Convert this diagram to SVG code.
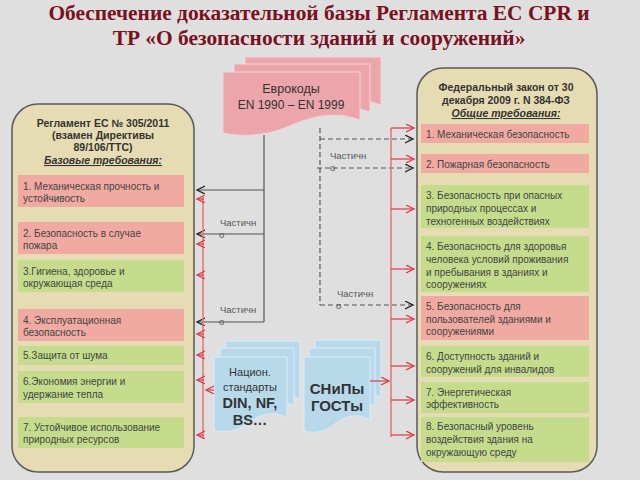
<svg xmlns="http://www.w3.org/2000/svg" width="640" height="480" viewBox="0 0 640 480">
<defs>
<style>
.title{font-family:"Liberation Serif","Times New Roman",serif;font-weight:bold;font-size:21.4px;fill:#7b1020;text-anchor:middle}
.panel{fill:#e6dcb3;stroke:#5a5a5a;stroke-width:1.5}
.hdr{font-family:"Liberation Sans",Arial,sans-serif;font-weight:bold;font-size:10.5px;fill:#333;text-anchor:middle}
.sub{font-style:italic;text-decoration:underline}
.pink{fill:#f1aaa1}
.green{fill:#c6dc8d}
.it{font-family:"Liberation Sans",Arial,sans-serif;font-size:10px;fill:#444}
.doc-p{fill:#eba5ab;stroke:#f4d6d8;stroke-width:1}
.doc-b{fill:#b8d9ea;stroke:#dcedf5;stroke-width:1}
.dt{font-family:"Liberation Sans",Arial,sans-serif;fill:#333;text-anchor:middle}
.lbl{font-family:"Liberation Sans",Arial,sans-serif;font-size:9.5px;fill:#555}
.blk{stroke:#555;stroke-width:1.2;fill:none}
.dsh{stroke:#555;stroke-width:1.2;fill:none;stroke-dasharray:5,3}
.red{stroke:#e23a48;stroke-width:1.2;fill:none}
.redv{stroke:#e8707a;stroke-width:1.5;fill:none}
</style>
<marker id="ab" markerWidth="10" markerHeight="10" refX="8" refY="4" orient="auto" markerUnits="userSpaceOnUse">
<path d="M0,0 L8,4 L0,8" fill="none" stroke="#222" stroke-width="1.3"/>
</marker>
<marker id="ar" markerWidth="10" markerHeight="10" refX="8" refY="4" orient="auto" markerUnits="userSpaceOnUse">
<path d="M0,0 L8,4 L0,8" fill="none" stroke="#e23a48" stroke-width="1.3"/>
</marker>
</defs>
<rect width="640" height="480" fill="#dfdfdf"/>

<g id="title">
<text class="title" x="319" y="20">Обеспечение доказательной базы Регламента ЕС CPR и</text>
<text class="title" x="319" y="45">ТР «О безопасности зданий и сооружений»</text>
</g>

<g id="left-panel">
<rect class="panel" x="12" y="104" width="182" height="368" rx="26"/>
<text class="hdr" x="103" y="127">Регламент ЕС № 305/2011</text>
<text class="hdr" x="103" y="139">(взамен Директивы</text>
<text class="hdr" x="103" y="151">89/106/ТТС)</text>
<text class="hdr sub" x="103" y="164">Базовые требования:</text>
</g>
<g id="l1"><rect class="pink" x="18" y="175" width="166" height="32"/><text class="it" x="23" y="190">1. Механическая прочность и</text><text class="it" x="23" y="202">устойчивость</text></g>
<g id="l2"><rect class="pink" x="18" y="222" width="166" height="32"/><text class="it" x="23" y="237">2. Безопасность в случае</text><text class="it" x="23" y="249">пожара</text></g>
<g id="l3"><rect class="green" x="18" y="260" width="166" height="32"/><text class="it" x="23" y="275">3.Гигиена, здоровье и</text><text class="it" x="23" y="287">окружающая среда</text></g>
<g id="l4"><rect class="pink" x="18" y="309" width="166" height="32"/><text class="it" x="23" y="324">4. Эксплуатационная</text><text class="it" x="23" y="336">безопасность</text></g>
<g id="l5"><rect class="green" x="18" y="346" width="166" height="19"/><text class="it" x="23" y="359">5.Защита от шума</text></g>
<g id="l6"><rect class="green" x="18" y="371" width="166" height="32"/><text class="it" x="23" y="385">6.Экономия энергии и</text><text class="it" x="23" y="398">удержание тепла</text></g>
<g id="l7"><rect class="green" x="18" y="417" width="166" height="31"/><text class="it" x="23" y="431">7. Устойчивое использование</text><text class="it" x="23" y="443">природных ресурсов</text></g>

<g id="right-panel">
<rect class="panel" x="417" y="68" width="180" height="404" rx="26"/>
<text class="hdr" x="506" y="91">Федеральный закон от 30</text>
<text class="hdr" x="506" y="104">декабря 2009 г. N 384-ФЗ</text>
<text class="hdr sub" x="506" y="117">Общие требования:</text>
</g>
<g id="r1"><rect class="pink" x="421" y="124" width="168" height="19"/><text class="it" x="426" y="138">1. Механическая безопасность</text></g>
<g id="r2"><rect class="pink" x="421" y="154" width="168" height="19"/><text class="it" x="426" y="168">2. Пожарная безопасность</text></g>
<g id="r3"><rect class="green" x="421" y="185" width="168" height="43"/><text class="it" x="426" y="199">3. Безопасность при опасных</text><text class="it" x="426" y="212">природных процессах и</text><text class="it" x="426" y="225">техногенных воздействиях</text></g>
<g id="r4"><rect class="green" x="421" y="236" width="168" height="56"/><text class="it" x="426" y="250">4. Безопасность для здоровья</text><text class="it" x="426" y="263">человека условий проживания</text><text class="it" x="426" y="276">и пребывания в зданиях и</text><text class="it" x="426" y="288">сооружениях</text></g>
<g id="r5"><rect class="pink" x="421" y="296" width="168" height="44"/><text class="it" x="426" y="310">5. Безопасность для</text><text class="it" x="426" y="323">пользователей зданиями и</text><text class="it" x="426" y="335">сооружениями</text></g>
<g id="r6"><rect class="green" x="421" y="346" width="168" height="31"/><text class="it" x="426" y="360">6. Доступность зданий и</text><text class="it" x="426" y="373">сооружений для инвалидов</text></g>
<g id="r7"><rect class="green" x="421" y="382" width="168" height="31"/><text class="it" x="426" y="396">7. Энергетическая</text><text class="it" x="426" y="408">эффективность</text></g>
<g id="r8"><rect class="green" x="421" y="417" width="168" height="45"/><text class="it" x="426" y="430">8. Безопасный уровень</text><text class="it" x="426" y="443">воздействия здания на</text><text class="it" x="426" y="456">окружающую среду</text></g>

<g id="eurocodes">
<path class="doc-p" d="M245,57 H381 V105 C360,97 340,99 314,110 C292,120 268,122 245,117 Z"/>
<path class="doc-p" d="M234,64 H370 V112 C349,104 329,106 303,117 C281,127 257,129 234,124 Z"/>
<path class="doc-p" d="M223,72 H360 V120 C338,112 318,114 292,125 C270,135 246,138 223,133 Z"/>
<text class="dt" x="291" y="93" font-size="12.5">Еврокоды</text>
<text class="dt" x="291" y="109" font-size="12">EN 1990 – EN 1999</text>
</g>

<g id="national">
<path class="doc-b" d="M226,341 H300 V399 C288,392 276,394 262,402 C250,410 238,412 226,408 Z"/>
<path class="doc-b" d="M220,348 H294 V406 C282,399 270,401 256,409 C244,417 232,419 220,415 Z"/>
<path class="doc-b" d="M214,357 H287 V418 C275,411 263,413 250,422 C238,431 226,434 214,430 Z"/>
<text class="dt" x="250" y="376" font-size="11">Национ.</text>
<text class="dt" x="250" y="391" font-size="11">стандарты</text>
<text class="dt" x="250" y="408" font-size="14.5" font-weight="bold" fill="#222">DIN, NF,</text>
<text class="dt" x="250" y="425" font-size="14.5" font-weight="bold" fill="#222">BS…</text>
</g>

<g id="snip">
<path class="doc-b" d="M315,340 H381 V398 C370,391 359,393 347,401 C336,409 326,411 315,407 Z"/>
<path class="doc-b" d="M309,348 H375 V406 C364,399 353,401 341,409 C330,417 320,419 309,415 Z"/>
<path class="doc-b" d="M304,357 H370 V420 C359,413 348,415 336,423 C325,432 314,434 304,431 Z"/>
<text class="dt" x="337" y="394" font-size="15" font-weight="bold" fill="#222">СНиПы</text>
<text class="dt" x="337" y="411" font-size="15" font-weight="bold" fill="#222">ГОСТы</text>
</g>

<g id="connectors">
<path class="blk" d="M264,135 V322"/>
<line class="blk" x1="264" y1="190" x2="197" y2="190" marker-end="url(#ab)"/>
<line class="blk" x1="264" y1="234" x2="197" y2="234" marker-end="url(#ab)"/>
<line class="blk" x1="264" y1="322" x2="197" y2="322" marker-end="url(#ab)"/>
<path class="dsh" d="M320,128 V305"/>
<line class="dsh" x1="320" y1="139" x2="413" y2="139" marker-end="url(#ab)"/>
<line class="dsh" x1="317" y1="168" x2="413" y2="168" marker-end="url(#ab)"/>
<line class="dsh" x1="320" y1="305" x2="413" y2="305" marker-end="url(#ab)"/>
<path class="redv" d="M203,197 V438"/>
<line class="red" x1="214" y1="390" x2="206" y2="390" marker-end="url(#ar)"/>
<line class="red" x1="204" y1="199" x2="197" y2="199" marker-end="url(#ar)"/>
<line class="red" x1="204" y1="244" x2="197" y2="244" marker-end="url(#ar)"/>
<line class="red" x1="204" y1="275" x2="197" y2="275" marker-end="url(#ar)"/>
<line class="red" x1="204" y1="334" x2="197" y2="334" marker-end="url(#ar)"/>
<line class="red" x1="204" y1="355" x2="197" y2="355" marker-end="url(#ar)"/>
<line class="red" x1="204" y1="380" x2="197" y2="380" marker-end="url(#ar)"/>
<line class="red" x1="204" y1="435" x2="197" y2="435" marker-end="url(#ar)"/>
<path class="redv" d="M391,128 V437"/>
<line class="red" x1="370" y1="381" x2="389" y2="381" marker-end="url(#ar)"/>
<line class="red" x1="391" y1="128" x2="414" y2="128" marker-end="url(#ar)"/>
<line class="red" x1="391" y1="159" x2="414" y2="159" marker-end="url(#ar)"/>
<line class="red" x1="391" y1="209" x2="414" y2="209" marker-end="url(#ar)"/>
<line class="red" x1="391" y1="269" x2="414" y2="269" marker-end="url(#ar)"/>
<line class="red" x1="391" y1="319" x2="414" y2="319" marker-end="url(#ar)"/>
<line class="red" x1="391" y1="366" x2="414" y2="366" marker-end="url(#ar)"/>
<line class="red" x1="391" y1="400" x2="414" y2="400" marker-end="url(#ar)"/>
<line class="red" x1="391" y1="435" x2="414" y2="435" marker-end="url(#ar)"/>
<text class="lbl" x="220" y="226">Частичн</text><text class="lbl" x="219" y="238">о</text>
<text class="lbl" x="220" y="313">Частичн</text><text class="lbl" x="219" y="325">о</text>
<text class="lbl" x="330" y="159">Частичн</text><text class="lbl" x="330" y="171">о</text>
<text class="lbl" x="337" y="297">Частичн</text><text class="lbl" x="336" y="309">о</text>
</g>
</svg>
